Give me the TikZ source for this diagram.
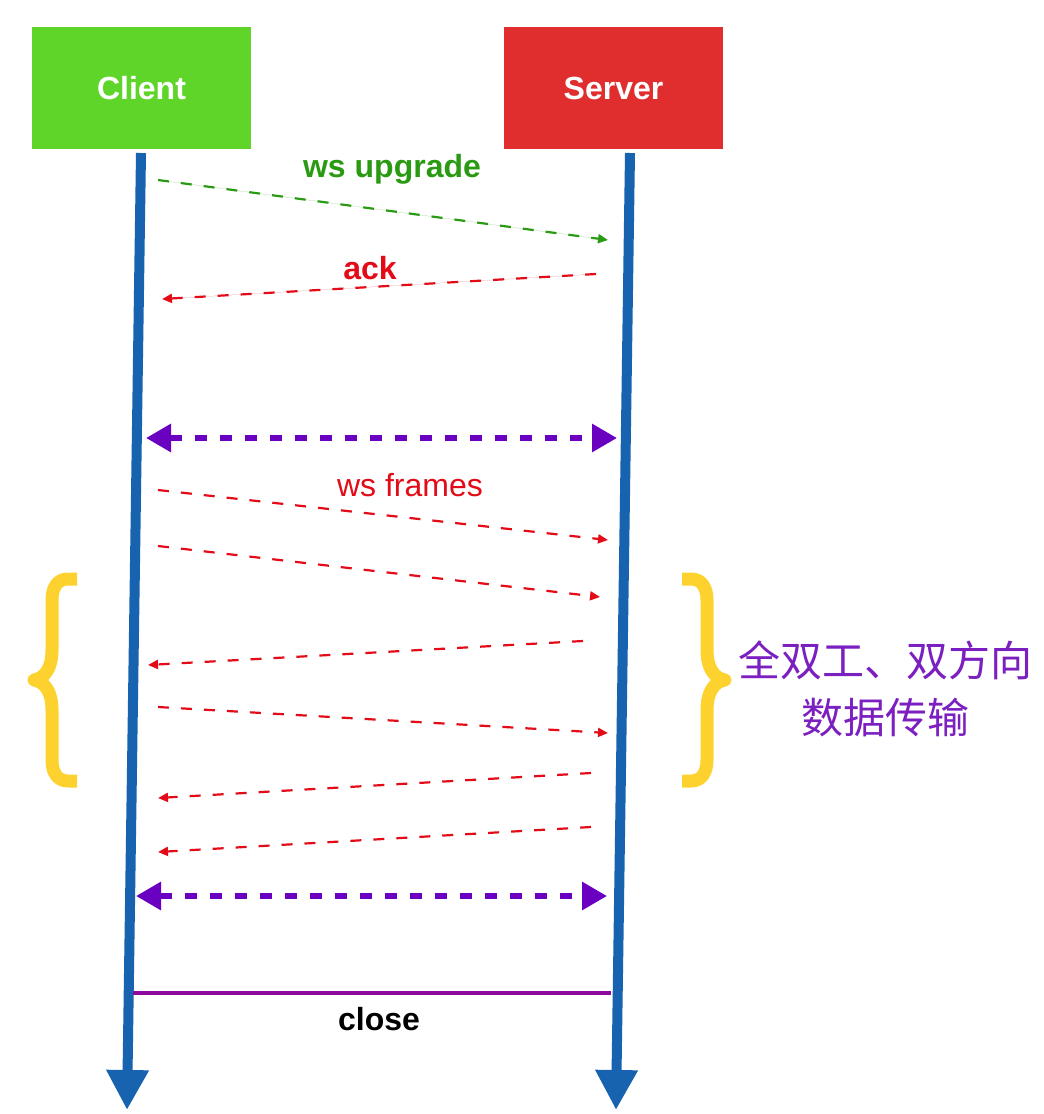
\documentclass[tikz,border=0pt]{standalone}
\usepackage{fontspec}
\setmainfont{Liberation Sans}
\newfontfamily\cjk{Noto Sans CJK SC}
\usetikzlibrary{arrows.meta}
\definecolor{boxgreen}{HTML}{5FD52A}
\definecolor{boxred}{HTML}{E02E2E}
\definecolor{lifeblue}{HTML}{1763B0}
\definecolor{msggreen}{HTML}{2A9A12}
\definecolor{msgred}{HTML}{E20B17}
\definecolor{duplex}{HTML}{6A00C0}
\definecolor{closecol}{HTML}{8E0A9E}
\definecolor{cjkpurple}{HTML}{7B1FC0}
\definecolor{braceyellow}{HTML}{FDD22E}
\begin{document}
\begin{tikzpicture}[x=1pt,y=-1pt,
  actor/.style={minimum width=219pt,minimum height=122pt,inner sep=0pt,text=white,
    font=\bfseries\fontsize{32}{38}\selectfont},
  lifeline/.style={draw=lifeblue,line width=10pt,-{Triangle[length=40pt,width=40pt]}},
  msg/.style={line width=2.2pt,dash pattern=on 11pt off 12pt,-{Triangle[length=10pt,width=9pt]}},
  duplexarrow/.style={draw=duplex,line width=6pt,dash pattern=on 12pt off 13pt,
    {Triangle[length=25pt,width=27pt]}-{Triangle[length=25pt,width=27pt]}},
  lbl/.style={font=\fontsize{32}{38}\selectfont},
  bolbl/.style={font=\bfseries\fontsize{32}{38}\selectfont},
  bracestyle/.style={draw=braceyellow,line width=13pt,line join=round},
  cjklbl/.style={text=cjkpurple,font=\cjk\fontsize{42}{50}\selectfont}]
\useasboundingbox (0,0) rectangle (1044,1114);
% actors
\node[actor,fill=boxgreen] (client) at (141.5,88) {Client};
\node[actor,fill=boxred] (server) at (613.5,88) {Server};
% lifelines
\coordinate (cTop) at (141,153);
\coordinate (cEnd) at (127,1110);
\coordinate (sTop) at (630,153);
\coordinate (sEnd) at (616,1110);
\draw[lifeline] (cTop) -- (cEnd);
\draw[lifeline] (sTop) -- (sEnd);
% message endpoints
\coordinate (m1a) at (158,180);  \coordinate (m1b) at (608,240);
\coordinate (m2a) at (596,274);  \coordinate (m2b) at (162,299);
\coordinate (d1a) at (146,438);  \coordinate (d1b) at (617,438);
\coordinate (f1a) at (158,490);  \coordinate (f1b) at (608,540);
\coordinate (f2a) at (158,546);  \coordinate (f2b) at (600,597);
\coordinate (f3a) at (583,641);  \coordinate (f3b) at (148,665);
\coordinate (f4a) at (158,707);  \coordinate (f4b) at (608,733);
\coordinate (f5a) at (591,773);  \coordinate (f5b) at (158,798);
\coordinate (f6a) at (591,827);  \coordinate (f6b) at (158,852);
\coordinate (d2a) at (136,896);  \coordinate (d2b) at (607,896);
\coordinate (ca) at (133,993);   \coordinate (cb) at (611,993);
% messages
\draw[msg,draw=msggreen,fill=msggreen] (m1a) -- (m1b);
\draw[msg,draw=msgred,fill=msgred] (m2a) -- (m2b);
\draw[duplexarrow] (d1a) -- (d1b);
\draw[msg,draw=msgred] (f1a) -- (f1b);
\draw[msg,draw=msgred] (f2a) -- (f2b);
\draw[msg,draw=msgred] (f3a) -- (f3b);
\draw[msg,draw=msgred] (f4a) -- (f4b);
\draw[msg,draw=msgred] (f5a) -- (f5b);
\draw[msg,draw=msgred] (f6a) -- (f6b);
\draw[duplexarrow] (d2a) -- (d2b);
\draw[draw=closecol,line width=4pt] (ca) -- (cb);
% labels
\node[bolbl,text=msggreen] (lup) at (392,169) {ws upgrade};
\node[bolbl,text=msgred] (lack) at (370,268) {ack};
\node[lbl,text=msgred] (lframes) at (410,485) {ws frames};
\node[bolbl,text=black] (lclose) at (379,1019) {close};
% braces
\draw[bracestyle] (77,579) -- (68,579) .. controls (57,579) and (52,588) .. (52,600) -- (52,650)
  .. controls (52,668) and (45,678) .. (34,680) .. controls (45,682) and (52,692) .. (52,710)
  -- (52,760) .. controls (52,772) and (57,781) .. (68,781) -- (77,781);
\draw[bracestyle] (682,579) -- (691,579) .. controls (702,579) and (707,588) .. (707,600) -- (707,650)
  .. controls (707,668) and (714,678) .. (725,680) .. controls (714,682) and (707,692) .. (707,710)
  -- (707,760) .. controls (707,772) and (702,781) .. (691,781) -- (682,781);
\node[cjklbl] (cjk1) at (885,660) {全双工、双方向};
\node[cjklbl] (cjk2) at (885,718) {数据传输};
\end{tikzpicture}
\end{document}
